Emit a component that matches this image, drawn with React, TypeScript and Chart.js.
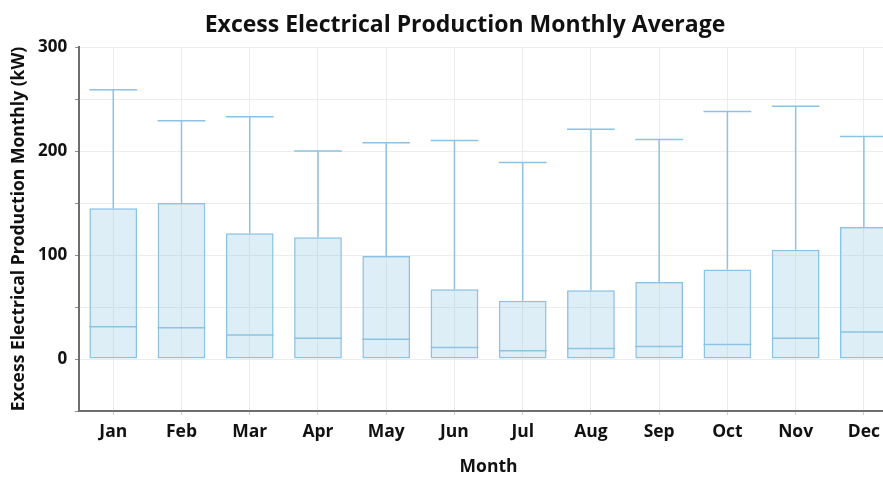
import React, { useEffect, useRef } from 'react';
import { Chart, registerables } from 'chart.js';

Chart.register(...registerables);

const months = ['Jan', 'Feb', 'Mar', 'Apr', 'May', 'Jun', 'Jul', 'Aug', 'Sep', 'Oct', 'Nov', 'Dec'];
const maxValues = [259, 229, 233, 200, 208, 210, 189, 221, 211, 238, 243, 214];
const q3Values = [145, 150, 121, 117, 99, 67, 56, 66, 74, 86, 105, 127];
const medianValues = [31, 30, 23, 20, 19, 11, 8, 10, 12, 14, 20, 26];
const q1Values = [0, 0, 0, 0, 0, 0, 0, 0, 0, 0, 0, 0];
const minValues = [0, 0, 0, 0, 0, 0, 0, 0, 0, 0, 0, 0];

const TITLE = 'Excess Electrical Production Monthly Average';
const Y_TITLE = 'Excess Electrical Production Monthly (kW)';
const X_TITLE = 'Month';

const LINE_COLOR = '#8cc2e3';
const FILL_COLOR = 'rgba(160, 205, 232, 0.35)';
const FONT = '"Open Sans", Lato, sans-serif';

const whiskerPlugin = {
  id: 'whiskers',
  afterDatasetsDraw(chart: any) {
    const meta = chart.getDatasetMeta(0);
    const y = chart.scales.y;
    const ctx = chart.ctx;
    ctx.save();
    ctx.strokeStyle = LINE_COLOR;
    ctx.lineWidth = 1.5;
    meta.data.forEach((bar: any, i: number) => {
      const x = bar.x;
      const half = bar.width / 2;
      const yMax = y.getPixelForValue(maxValues[i]);
      const yQ3 = y.getPixelForValue(q3Values[i]);
      const yMed = y.getPixelForValue(medianValues[i]);
      const yQ1 = y.getPixelForValue(q1Values[i]);
      const yMin = y.getPixelForValue(minValues[i]);
      ctx.beginPath();
      ctx.moveTo(x, yQ3);
      ctx.lineTo(x, yMax);
      ctx.moveTo(x - half, yMax);
      ctx.lineTo(x + half, yMax);
      ctx.moveTo(x - half, yMed);
      ctx.lineTo(x + half, yMed);
      if (yMin !== yQ1) {
        ctx.moveTo(x, yQ1);
        ctx.lineTo(x, yMin);
        ctx.moveTo(x - half, yMin);
        ctx.lineTo(x + half, yMin);
      }
      ctx.stroke();
    });
    ctx.restore();
  },
};

const titlePlugin = {
  id: 'centeredTitle',
  afterDraw(chart: any) {
    const ctx = chart.ctx;
    ctx.save();
    ctx.fillStyle = '#111';
    ctx.font = `bold 23px ${FONT}`;
    ctx.textAlign = 'center';
    ctx.textBaseline = 'alphabetic';
    ctx.fillText(TITLE, chart.width / 2, 32);
    ctx.restore();
  },
};

export default function App() {
  const ref = useRef<HTMLCanvasElement | null>(null);

  useEffect(() => {
    document.body.style.margin = '0';
    const canvas = ref.current;
    if (!canvas) return;
    const chart = new Chart(canvas, {
      type: 'bar',
      data: {
        labels: months,
        datasets: [
          {
            data: months.map((_, i) => [q1Values[i], q3Values[i]]) as any,
            backgroundColor: FILL_COLOR,
            borderColor: LINE_COLOR,
            borderWidth: 1.5,
            borderSkipped: false,
            barPercentage: 0.7,
            categoryPercentage: 1,
          },
        ],
      },
      options: {
        responsive: false,
        animation: false,
        devicePixelRatio: 1,
        layout: { padding: { left: 9, right: 32, top: 47, bottom: 1 } },
        plugins: {
          legend: { display: false },
          tooltip: { enabled: false },
          title: { display: false },
        },
        scales: {
          x: {
            offset: true,
            grid: { color: '#ececec', tickColor: '#d0d0d0', tickLength: 4, offset: false },
            border: { color: '#6e6e6e', width: 2 },
            ticks: {
              color: '#111',
              font: { family: FONT, size: 17.5, weight: 'bold' },
              padding: 7,
            },
            title: {
              display: true,
              text: X_TITLE,
              color: '#111',
              font: { family: FONT, size: 17.5, weight: 'bold' },
              padding: { top: 7, bottom: 0 },
            },
          },
          y: {
            min: -50,
            max: 300,
            grid: { color: '#ececec', tickColor: '#888', tickLength: 4 },
            border: { color: '#6e6e6e', width: 2 },
            ticks: {
              stepSize: 50,
              autoSkip: false,
              color: '#111',
              font: { family: FONT, size: 17, weight: 'bold' },
              padding: 8,
              callback: (v: any) => (Number(v) >= 0 && Number(v) % 100 === 0 ? String(v) : ''),
            },
            title: {
              display: true,
              text: Y_TITLE,
              color: '#111',
              font: { family: FONT, size: 17.5, weight: 'bold' },
              padding: { top: 0, bottom: 0 },
            },
          },
        },
      },
      plugins: [whiskerPlugin, titlePlugin],
    });
    return () => chart.destroy();
  }, []);

  return (
    <div style={{ width: 883, height: 479, overflow: 'hidden', position: 'relative', background: '#fff' }}>
      <canvas ref={ref} width={930} height={479} style={{ display: 'block' }} />
    </div>
  );
}
